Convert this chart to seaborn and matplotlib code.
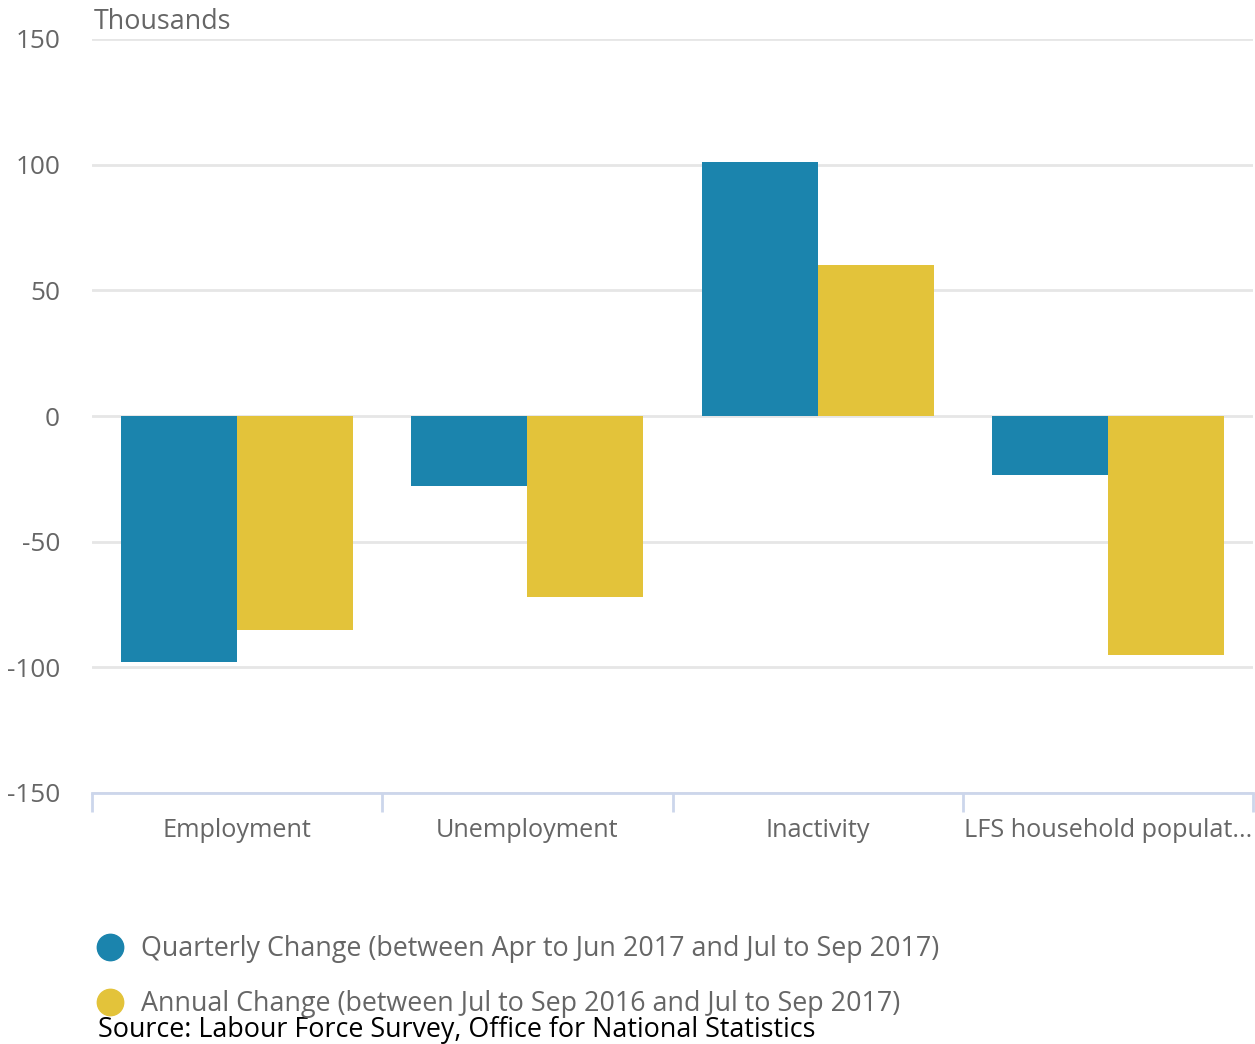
import matplotlib
matplotlib.use("Agg")
import matplotlib.pyplot as plt
from matplotlib.lines import Line2D
import seaborn as sns
import pandas as pd
import numpy as np

categories = ["Employment", "Unemployment", "Inactivity", "LFS household populat..."]
series_names = ["Quarterly Change (between Apr to Jun 2017 and Jul to Sep 2017)",
                "Annual Change (between Jul to Sep 2016 and Jul to Sep 2017)"]
quarterly = [-98, -28, 101, -23.5]
annual = [-85, -72, 60, -95]
y_ticks = [-150, -100, -50, 0, 50, 100, 150]
colors = ["#1b84ad", "#e3c33a"]

df = pd.DataFrame({
    "category": categories * 2,
    "series": [series_names[0]] * 4 + [series_names[1]] * 4,
    "value": quarterly + annual,
})

sns.set_theme(style="white")
plt.rcParams['font.family'] = ['Open Sans', 'DejaVu Sans']
FS = 19.4

fig = plt.figure(figsize=(12.55, 10.44), dpi=100)
ax = fig.add_axes([92/1255, 1 - 793/1044, (1253-92)/1255, (793-39)/1044])

sns.barplot(data=df, x="category", y="value", hue="series", order=categories,
            hue_order=series_names, palette=colors, width=0.8, ax=ax,
            linewidth=0, legend=False, saturation=1)

ax.set_ylim(-150, 150)
ax.set_xlim(-0.5, 3.5)
ax.set_yticks(y_ticks)
ax.set_yticklabels([str(v) for v in y_ticks], color="#666666", fontsize=18.8)
ax.yaxis.grid(True, color="#e6e6e6", linewidth=2)
ax.set_axisbelow(True)
ax.tick_params(axis="y", length=0, pad=23)

ax.set_xticks(range(len(categories)))
ax.set_xticklabels(categories, color="#666666", fontsize=18.2)
ax.tick_params(axis="x", which="major", length=0, pad=18)
ax.set_xticks([-0.5, 0.5, 1.5, 2.5, 3.5], minor=True)
ax.tick_params(axis="x", which="minor", bottom=True, length=14, width=2,
               color="#ccd6eb", direction="out")

for s in ["top", "left", "right"]:
    ax.spines[s].set_visible(False)
ax.spines["bottom"].set_color("#ccd6eb")
ax.spines["bottom"].set_linewidth(2)
ax.set_xlabel("")
ax.set_ylabel("")

fig.text(94/1255, 1 - 22/1044, "Thousands", color="#666666", fontsize=FS, va="center", ha="left")

handles = [Line2D([0], [0], marker="o", color="none", markerfacecolor=c, markeredgecolor=c,
                  markersize=19) for c in colors]
fig.legend(handles, series_names, loc="upper left", bbox_to_anchor=(70/1255, 1 - 911/1044),
           frameon=False, fontsize=FS, labelcolor="#666666", handletextpad=0.55,
           labelspacing=1.0, handlelength=1.2)

fig.text(98/1255, 1 - 1030/1044, "Source: Labour Force Survey, Office for National Statistics",
         color="black", fontsize=FS, va="center", ha="left")

fig.savefig("out.png", dpi=100, facecolor="white")
